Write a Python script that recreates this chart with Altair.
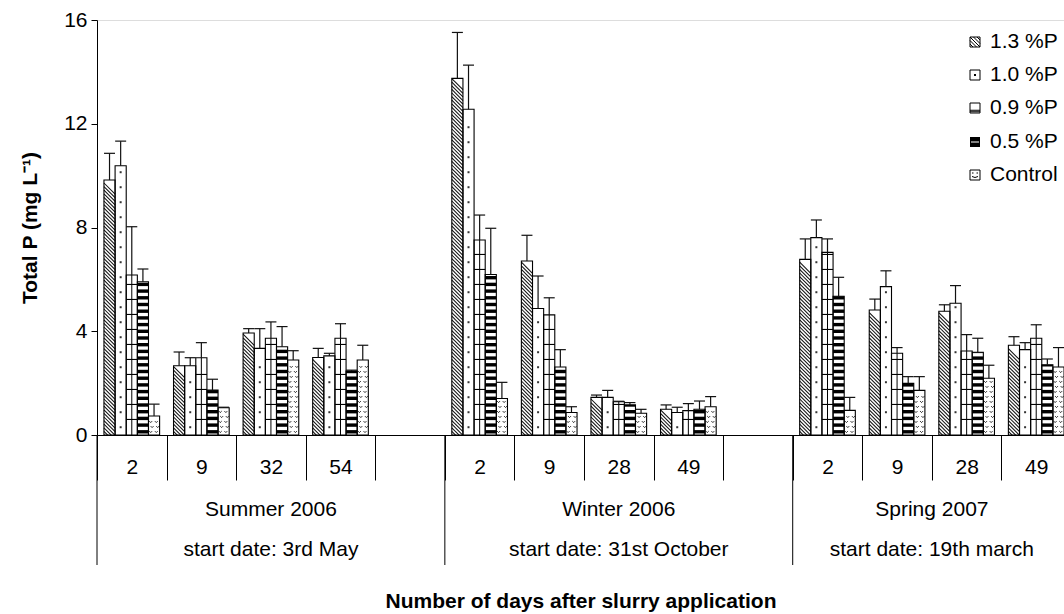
import altair as alt
import numpy as np
import pandas as pd

# ---- data -------------------------------------------------------------
series = ["1.3 %P", "1.0 %P", "0.9 %P", "0.5 %P", "Control"]
seasons = ["Summer 2006", "Winter 2006", "Spring 2007"]
start_dates = ["start date: 3rd May", "start date: 31st October", "start date: 19th march"]
summer_days = [2, 9, 32, 54]
winter_days = [2, 9, 28, 49]
spring_days = [2, 9, 28, 49]
blank_after = [True, True, False]
y_ticks = [0, 4, 8, 12, 16]

# mean total P (mg/L) per sampling day: summer x4, winter x4, spring x4
p13_mean = [9.83, 2.67, 3.93, 2.99, 13.75, 6.71, 1.45, 0.99, 6.77, 4.82, 4.77, 3.46]
p10_mean = [10.38, 2.67, 3.34, 3.05, 12.56, 4.88, 1.45, 0.87, 7.61, 5.72, 5.08, 3.29]
p09_mean = [6.17, 2.98, 3.73, 3.73, 7.52, 4.63, 1.28, 0.94, 7.04, 3.15, 3.24, 3.73]
p05_mean = [5.91, 1.73, 3.40, 2.47, 6.19, 2.62, 1.16, 0.99, 5.35, 1.99, 3.19, 2.71]
ctrl_mean = [0.73, 1.05, 2.89, 2.89, 1.41, 0.87, 0.84, 1.09, 0.95, 1.72, 2.19, 2.62]

# standard errors (upper whisker length)
p13_se = [1.03, 0.53, 0.17, 0.35, 1.77, 0.99, 0.09, 0.17, 0.79, 0.42, 0.25, 0.33]
p10_se = [0.95, 0.31, 0.76, 0.10, 1.70, 1.25, 0.27, 0.20, 0.68, 0.61, 0.68, 0.27]
p09_se = [1.86, 0.58, 0.63, 0.56, 0.96, 0.66, 0.02, 0.27, 0.52, 0.22, 0.63, 0.52]
p05_se = [0.49, 0.42, 0.78, 0.03, 1.78, 0.67, 0.09, 0.32, 0.73, 0.26, 0.54, 0.22]
ctrl_se = [0.46, 0.02, 0.36, 0.57, 0.62, 0.22, 0.15, 0.39, 0.50, 0.53, 0.50, 0.75]

# ---- layout -----------------------------------------------------------
PLOT_W, PLOT_H = 967, 415
X_RANGE = 974            # last slot runs slightly past the right edge
OFFSET_PAD = 0.625       # gap around each group of five bars
FONT = "Liberation Sans"
LABEL_SIZE = 21
TITLE_SIZE = 21
INK = "#000000"

means = [p13_mean, p10_mean, p09_mean, p05_mean, ctrl_mean]
errors = [p13_se, p10_se, p09_se, p05_se, ctrl_se]
season_days = [summer_days, winter_days, spring_days]

slot_order = []
season_slots = {}
rows = []
k = 0
for season, days, blank in zip(seasons, season_days, blank_after):
    season_slots[season] = []
    for d in days:
        slot = f"{season}|{d}"
        slot_order.append(slot)
        season_slots[season].append(slot)
        for s, m, e in zip(series, means, errors):
            rows.append(dict(slot=slot, series=s, value=m[k], top=m[k] + e[k], base=0.0))
        k += 1
    if blank:
        slot = f"{season}|"
        slot_order.append(slot)
        season_slots[season].append(slot)
bars = pd.DataFrame(rows)

ppu = PLOT_H / 16.0
slot_w = X_RANGE / len(slot_order)
bar_w = slot_w / (len(series) + 2 * OFFSET_PAD)
half_u = bar_w / 2 / ppu


def fill_rows(name, start, step, end_margin):
    out = []
    for r in bars[bars.series == name].itertuples():
        for i, y in enumerate(np.arange(start, r.value - end_margin, step)):
            out.append(dict(slot=r.slot, series=r.series, y=float(y), value=r.value,
                            kind="a" if i % 2 == 0 else "b"))
    return pd.DataFrame(out)


hatch = fill_rows("1.3 %P", -half_u, 3.6 / ppu, half_u)
dots = fill_rows("1.0 %P", 0.3, 15.0 / ppu, 0.15)
grid = fill_rows("0.9 %P", 15.0 / ppu, 15.0 / ppu, 0.1)
grid["y2"] = grid["y"] + 1.1 / ppu
stripes = fill_rows("0.5 %P", 1.5 / ppu, 6.7 / ppu, 0.02)
stripes["y2"] = np.minimum(stripes["y"] + 3.4 / ppu, stripes["value"])
waves = fill_rows("Control", 3.0 / ppu, 5.0 / ppu, 2.0 / ppu)

# ---- scales & axes ----------------------------------------------------
x_scale = alt.Scale(domain=slot_order, range=[0, X_RANGE], paddingInner=0, paddingOuter=0)
xo_scale = alt.Scale(domain=series, paddingInner=0, paddingOuter=OFFSET_PAD)
y_scale = alt.Scale(domain=[0, 16], nice=False, zero=True)

x_axis = alt.Axis(
    title="Number of days after slurry application",
    labelExpr="split(datum.value, '|')[1]",
    labelAngle=0, labelFont=FONT, labelFontSize=LABEL_SIZE, labelColor=INK,
    labelPadding=-13, labelBaseline="middle", labelOverlap=False,
    tickSize=45, tickBand="extent", tickColor=INK, domainColor=INK,
    titleFont=FONT, titleFontSize=TITLE_SIZE, titleFontWeight="bold", titleColor=INK,
    titleX=PLOT_W / 2, titleY=166, titleBaseline="middle", titleAlign="center",
)
y_axis = alt.Axis(
    title="Total P (mg L⁻¹)", values=y_ticks, grid=False,
    tickSize=6, tickColor=INK, domainColor=INK,
    labelFont=FONT, labelFontSize=LABEL_SIZE, labelColor=INK, labelPadding=4,
    titleFont=FONT, titleFontSize=TITLE_SIZE, titleFontWeight="bold", titleColor=INK,
    titleX=-67, titleY=PLOT_H / 2, titleAngle=270, titleAlign="center",
    titleBaseline="middle",
)


def X(field="slot", **kw):
    return alt.X(f"{field}:N", scale=x_scale, axis=x_axis, **kw)


def XO():
    return alt.XOffset("series:N", scale=xo_scale)


def Y(field):
    return alt.Y(f"{field}:Q", scale=y_scale, axis=y_axis)


layers = []

# white bar bodies
layers.append(alt.Chart(bars).mark_bar(fill="white", strokeWidth=0).encode(
    x=X(), xOffset=XO(), y=Y("value")))

# 1.3 %P: diagonal hatching
layers.append(alt.Chart(hatch).mark_point(
    shape="M-1,-1L1,1", size=bar_w ** 2, filled=False, color="#111111",
    strokeWidth=1.05, opacity=1, clip=True).encode(x=X(), xOffset=XO(), y=Y("y")))

# 1.0 %P: sparse dots
layers.append(alt.Chart(dots).mark_square(size=4, color="#333333", opacity=1).encode(
    x=X(), xOffset=XO(), y=Y("y")))

# 0.9 %P: grid of horizontal lines with a centre line
layers.append(alt.Chart(grid).mark_bar(color=INK).encode(
    x=X(), xOffset=XO(), y=Y("y"), y2="y2"))
layers.append(alt.Chart(bars[bars.series == "0.9 %P"]).mark_rule(color=INK, strokeWidth=1).encode(
    x=X(), xOffset=XO(), y=Y("value"), y2="base"))

# 0.5 %P: heavy horizontal stripes
layers.append(alt.Chart(stripes).mark_bar(color=INK).encode(
    x=X(), xOffset=XO(), y=Y("y"), y2="y2"))

# Control: small wavy marks
wave_a = "M-0.85,-0.15Q-0.6,0.35 -0.35,-0.15M0.15,-0.15Q0.4,0.35 0.65,-0.15"
wave_b = "M-0.6,-0.15Q-0.35,0.35 -0.1,-0.15M0.4,-0.15Q0.65,0.35 0.9,-0.15"
layers.append(alt.Chart(waves).mark_point(
    filled=False, size=bar_w ** 2, color="#222222", strokeWidth=1, opacity=1).encode(
    x=X(), xOffset=XO(), y=Y("y"),
    shape=alt.Shape("kind:N", scale=alt.Scale(domain=["a", "b"], range=[wave_a, wave_b]),
                    legend=None)))

# bar outlines
layers.append(alt.Chart(bars).mark_bar(fillOpacity=0, stroke=INK, strokeWidth=1.1).encode(
    x=X(), xOffset=XO(), y=Y("value")))

# upper error bars
layers.append(alt.Chart(bars).mark_rule(color="#111111", strokeWidth=1.2).encode(
    x=X(), xOffset=XO(), y=Y("value"), y2="top"))
layers.append(alt.Chart(bars).mark_point(
    shape="M-1,0L1,0", size=121, filled=False, color="#111111", strokeWidth=1.2,
    opacity=1).encode(x=X(), xOffset=XO(), y=Y("top")))

# long dividers between seasons
dividers = pd.DataFrame({"slot": [season_slots[s][0] for s in seasons]})
layers.append(alt.Chart(dividers).mark_rule(color=INK, strokeWidth=1).encode(
    x=X(bandPosition=0), y=alt.value(PLOT_H), y2=alt.value(PLOT_H + 130)))

# season names and start dates, centred under each season's slots
odd_rows, even_rows = [], []
for season, start in zip(seasons, start_dates):
    slots = season_slots[season]
    n = len(slots)
    if n % 2:
        odd_rows.append(dict(anchor=slots[n // 2], season=season, start=start))
    else:
        even_rows.append(dict(anchor=slots[n // 2], season=season, start=start))
for rows_, band in ((odd_rows, 0.5), (even_rows, 0.0)):
    if not rows_:
        continue
    df = pd.DataFrame(rows_)
    for field, yy in (("season", PLOT_H + 75), ("start", PLOT_H + 115)):
        layers.append(alt.Chart(df).mark_text(
            font=FONT, fontSize=LABEL_SIZE, color=INK, baseline="middle", align="center").encode(
            x=X("anchor", bandPosition=band), y=alt.value(yy), text=f"{field}:N"))

# legend
LEG_X, TXT_X = 878, 893
legend_y = [22, 55, 88, 122, 155]
box = "M-1,-1H1V1H-1Z"
hatch_icon = box + "M-1,-1L1,1M-1,-0.3L0.3,1M-1,0.4L-0.4,1M-0.3,-1L1,0.3M0.4,-1L1,-0.4"
icons = {
    "1.3 %P": [dict(shape=hatch_icon, filled=False, color=INK, size=100)],
    "1.0 %P": [dict(shape=box, filled=False, color=INK, size=100),
               dict(shape="square", filled=True, color=INK, size=4)],
    "0.9 %P": [dict(shape=box + "M-1,0.45H1M-1,0.75H1", filled=False, color=INK, size=100)],
    "0.5 %P": [dict(shape="square", filled=True, color=INK, size=100),
               dict(shape="M-1,0H1", filled=False, color="white", size=64)],
    "Control": [dict(shape=box + "M-0.6,-0.4H-0.3M0.3,-0.4H0.6M-0.6,0.3Q0,0.7 0.6,0.3",
                     filled=False, color=INK, size=100)],
}
for name, yy in zip(series, legend_y):
    one = pd.DataFrame({"label": [name]})
    for ic in icons[name]:
        layers.append(alt.Chart(one).mark_point(
            shape=ic["shape"], filled=ic["filled"], color=ic["color"], size=ic["size"],
            strokeWidth=1, opacity=1).encode(x=alt.value(LEG_X), y=alt.value(yy)))
    layers.append(alt.Chart(one).mark_text(
        font=FONT, fontSize=LABEL_SIZE, color=INK, align="left", baseline="middle").encode(
        x=alt.value(TXT_X), y=alt.value(yy), text="label:N"))

chart = alt.layer(*layers).properties(
    width=PLOT_W, height=PLOT_H,
    padding={"left": 97, "top": 20, "right": 0, "bottom": 179},
    autosize=alt.AutoSizeParams(type="none"),
).configure_view(stroke=None).configure(background="white")

chart.save("out.html", embed_options={"renderer": "svg", "actions": False})
